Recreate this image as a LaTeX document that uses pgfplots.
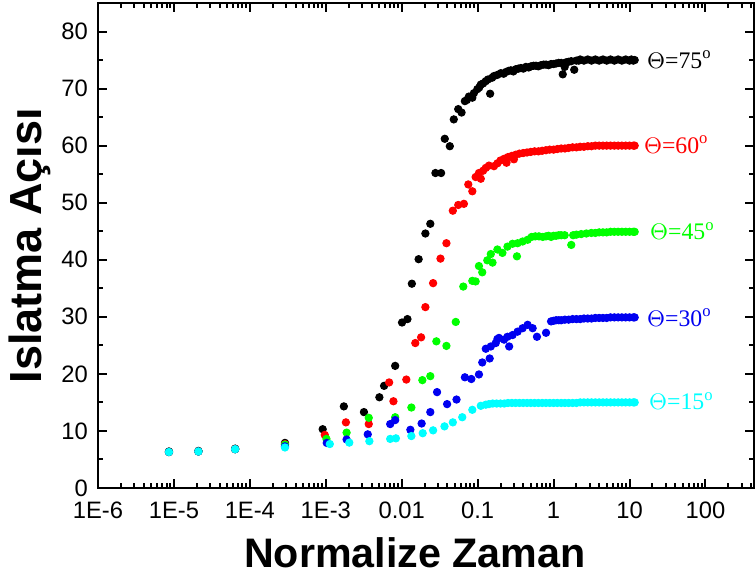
\documentclass[border=0pt]{standalone}
\usepackage{fontspec}
\setmainfont{Liberation Sans}
\newfontfamily\tnr{Liberation Serif}
\usepackage{pgfplots}
\pgfplotsset{compat=1.18}
\definecolor{cyanpt}{RGB}{0,255,255}
\definecolor{greenpt}{RGB}{0,255,0}
\definecolor{bluept}{RGB}{0,0,240}
\definecolor{redpt}{RGB}{255,0,0}

\begin{document}
\begin{tikzpicture}
\begin{axis}[
  scale only axis,
  width=262.4pt, height=194pt,
  xmode=log,
  xmin=1e-6, xmax=436,
  ymin=0, ymax=85,
  xtick={1e-6,1e-5,1e-4,1e-3,0.01,0.1,1,10,100},
  xticklabels={1E-6,1E-5,1E-4,1E-3,0.01,0.1,1,10,100},
  minor xtick={2e-6,3e-6,4e-6,5e-6,6e-6,7e-6,8e-6,9e-6,
    2e-5,3e-5,4e-5,5e-5,6e-5,7e-5,8e-5,9e-5,
    2e-4,3e-4,4e-4,5e-4,6e-4,7e-4,8e-4,9e-4,
    2e-3,3e-3,4e-3,5e-3,6e-3,7e-3,8e-3,9e-3,
    0.02,0.03,0.04,0.05,0.06,0.07,0.08,0.09,
    0.2,0.3,0.4,0.5,0.6,0.7,0.8,0.9,
    2,3,4,5,6,7,8,9,
    20,30,40,50,60,70,80,90,
    200,300,400},
  ytick={0,10,...,80},
  minor y tick num=1,
  /pgf/number format/assume math mode=true,
  tick label style={font=\fontsize{9.5}{11}\selectfont},
  xticklabel style={yshift=-2pt},
  yticklabel style={xshift=-0.5pt},
  axis line style={line width=0.8pt},
  every tick/.style={black, line width=0.8pt},
  major tick length=3.6pt,
  minor tick length=2pt,
  xlabel={Normalize Zaman},
  ylabel={Islatma Açısı},
  label style={font=\fontsize{16.5}{18}\selectfont\bfseries},
  xlabel style={at={(axis description cs:0.483,-0.134)}, anchor=center},
  ylabel style={at={(axis description cs:-0.104,0.5)}, anchor=center,
    font=\fontsize{18}{20}\selectfont\bfseries},
  every axis plot/.append style={only marks, mark=*, mark size=1.45pt},
]
% Theta = 75
\addplot[black, mark options={fill=black}] coordinates {
  (8.6e-6,6.4) (2.1e-5,6.5) (6.4e-5,6.9) (2.9e-4,7.9) (9.1e-4,10.3)
  (1.73e-3,14.3) (3.18e-3,13.3) (5.08e-3,15.9) (5.86e-3,17.9) (8.2e-3,21.4)
  (1.01e-2,29.0) (1.19e-2,29.6) (1.36e-2,35.8) (1.67e-2,40.1) (2.05e-2,44.6)
  (2.38e-2,46.3) (2.78e-2,55.2) (3.30e-2,55.2) (3.69e-2,61.2) (4.30e-2,59.9)
  (4.85e-2,64.6) (5.55e-2,66.4) (6.14e-2,65.8) (6.79e-2,67.8) (7.2e-2,68.0)
  (7.67e-2,68.6) (8.51e-2,68.4) (8.93e-2,69.2) (9.91e-2,69.9) (0.105,70.2)
  (0.110,70.7) (0.118,70.9) (0.128,71.3) (0.137,71.6) (0.146,69.1)
  (0.155,71.9) (0.164,72.2) (0.182,72.4) (0.202,72.7) (0.22,72.6)
  (0.235,72.9) (0.255,73.1) (0.274,73.2) (0.295,73.0) (0.319,73.4)
  (0.345,73.5) (0.371,73.6) (0.40,73.5) (0.432,73.8) (0.47,73.7)
  (0.504,73.9) (0.545,74.0) (0.586,74.0) (0.63,73.9) (0.683,74.1)
  (0.74,74.2) (0.796,74.2) (0.86,74.1) (0.927,74.3) (1.0,74.3)
  (1.08,74.4) (1.17,74.5) (1.26,74.5) (1.32,72.5) (1.4,73.8)
  (1.46,74.6) (1.58,74.7) (1.71,74.8) (1.87,73.3) (1.99,74.9)
  (2.15,74.9) (2.24,75.1) (2.51,74.9) (2.82,75.1) (3.16,74.9)
  (3.55,75.1) (3.98,74.9) (4.47,75.1) (5.01,74.9) (5.62,75.1)
  (6.31,74.9) (7.08,75.1) (7.94,74.9) (8.91,75.1) (10,74.9)
  (10.6,75.1) (11.2,74.9) (11.7,75.0)
};
% Theta = 60
\addplot[redpt, mark options={fill=redpt}] coordinates {
  (8.6e-6,6.3) (2.1e-5,6.4) (6.4e-5,6.8) (2.9e-4,7.7) (9.7e-4,9.3)
  (1.84e-3,11.5) (3.68e-3,11.2) (6.83e-3,18.5) (7.78e-3,15.2) (1.15e-2,19.0)
  (1.51e-2,25.4) (1.80e-2,26.4) (2.05e-2,31.7) (2.59e-2,35.9) (3.24e-2,40.2)
  (3.88e-2,42.9) (4.71e-2,48.6) (5.55e-2,49.6) (6.59e-2,49.8) (7.53e-2,53.2)
  (8.51e-2,52.0) (9.41e-2,54.5) (0.104,55.2) (0.110,54.2) (0.118,55.6)
  (0.128,56.1) (0.141,56.5) (0.164,56.4) (0.182,56.9) (0.2,57.4)
  (0.224,57.7) (0.24,57.0) (0.251,58.0) (0.282,58.2) (0.30,57.6)
  (0.316,58.4) (0.355,58.6) (0.398,58.7) (0.447,58.8) (0.501,58.9)
  (0.562,59.0) (0.631,59.0) (0.708,59.1) (0.794,59.2) (0.891,59.3)
  (1.0,59.3) (1.12,59.4) (1.26,59.5) (1.41,59.5) (1.58,59.6)
  (1.78,59.7) (2.0,59.7) (2.24,59.8) (2.51,59.8) (2.82,59.9)
  (3.16,59.9) (3.55,60) (3.98,60) (4.47,60) (5.01,60) (5.62,60)
  (6.31,60) (7.08,60) (7.94,60) (8.91,60) (10,60) (11.2,60) (11.7,60)
};
% Theta = 45
\addplot[greenpt, mark options={fill=greenpt}] coordinates {
  (8.6e-6,6.3) (2.1e-5,6.4) (6.4e-5,6.8) (2.9e-4,7.6) (1.02e-3,8.6)
  (1.88e-3,9.7) (3.68e-3,12.3) (8.2e-3,12.4) (1.34e-2,14.1) (1.87e-2,18.9)
  (2.38e-2,19.6) (2.86e-2,25.7) (3.88e-2,24.9) (5.15e-2,29.1) (6.47e-2,35.3)
  (8.51e-2,36.3) (9.41e-2,36.2) (0.104,38.9) (0.115,37.8) (0.134,39.9)
  (0.149,41.0) (0.157,39.5) (0.182,41.8) (0.212,41.2) (0.247,42.3)
  (0.288,42.8) (0.329,40.6) (0.336,42.9) (0.391,43.2) (0.455,43.5)
  (0.514,44.0) (0.575,44.1) (0.642,44.1) (0.72,44.0) (0.796,44.1)
  (0.86,44.2) (0.927,44.0) (1.0,44.2) (1.08,44.2) (1.17,44.3)
  (1.26,44.3) (1.4,44.3) (1.71,42.6) (1.81,44.3) (2.0,44.4)
  (2.31,44.5) (2.7,44.6) (3.14,44.7) (3.55,44.7) (3.98,44.8)
  (4.47,44.8) (5.01,44.8) (5.62,44.9) (6.31,44.9) (7.08,44.9)
  (7.94,44.9) (8.91,44.9) (10,44.9) (11.2,44.9) (11.7,44.9)
};
% Theta = 30
\addplot[bluept, mark options={fill=bluept}] coordinates {
  (8.6e-6,6.3) (2.1e-5,6.4) (6.4e-5,6.8) (2.9e-4,7.3) (1.03e-3,7.9)
  (1.88e-3,8.5) (3.57e-3,9.4) (7.05e-3,11.2) (8.2e-3,11.9) (1.30e-2,10.2)
  (1.83e-2,11.3) (2.38e-2,13.3) (2.92e-2,16.8) (3.96e-2,14.7) (5.27e-2,15.5)
  (6.79e-2,19.4) (8.26e-2,19.1) (0.104,19.9) (0.115,22.0) (0.128,24.4)
  (0.144,22.7) (0.149,24.8) (0.173,25.4) (0.182,26.1) (0.191,26.3)
  (0.223,26.0) (0.247,26.5) (0.260,24.8) (0.288,26.8) (0.336,27.4)
  (0.391,28.0) (0.455,28.6) (0.530,28.0) (0.604,26.5) (0.796,27.2)
  (0.927,29.2) (1.0,29.3) (1.08,29.4) (1.17,29.4) (1.26,29.4)
  (1.41,29.5) (1.58,29.5) (1.78,29.6) (2.0,29.6) (2.24,29.6)
  (2.51,29.7) (2.82,29.7) (3.16,29.7) (3.55,29.8) (3.98,29.8)
  (4.47,29.8) (5.01,29.8) (5.62,29.9) (6.31,29.9) (7.08,29.9)
  (7.94,29.9) (8.91,29.9) (10,29.9) (11.2,29.9) (11.7,29.9)
};
% Theta = 15
\addplot[cyanpt, mark options={fill=cyanpt}] coordinates {
  (8.6e-6,6.3) (2.1e-5,6.4) (6.4e-5,6.8) (2.9e-4,7.1) (1.13e-3,7.7)
  (2.04e-3,7.95) (3.75e-3,8.2) (7.05e-3,8.6) (8.38e-3,8.7) (1.34e-2,9.1)
  (1.89e-2,9.6) (2.59e-2,10.1) (3.66e-2,10.8) (4.71e-2,11.5) (6.27e-2,12.4)
  (8.51e-2,13.7) (0.110,14.4) (0.128,14.6) (0.141,14.7) (0.158,14.8)
  (0.178,14.8) (0.2,14.8) (0.224,14.8) (0.251,14.9) (0.282,14.9)
  (0.316,14.9) (0.355,14.9) (0.398,14.9) (0.447,14.9) (0.501,14.9)
  (0.562,14.9) (0.631,14.9) (0.708,14.9) (0.794,14.9) (0.891,14.9)
  (1.0,14.9) (1.12,14.9) (1.26,14.9) (1.41,14.9) (1.58,14.9)
  (1.78,14.9) (2.0,14.9) (2.24,15.0) (2.51,15.0) (2.82,15.0)
  (3.16,15.0) (3.55,15.0) (3.98,15.0) (4.47,15.0) (5.01,15.0)
  (5.62,15.0) (6.31,15.0) (7.08,15.0) (7.94,15.0) (8.91,15.0)
  (10,15.0) (11.2,15.0) (11.7,15.0)
};
\node[anchor=base west, inner sep=0, black] at (axis cs:16.8,73.6) {\tnr\fontsize{9.5}{11}\selectfont $\Theta$=75\textsuperscript{o}};
\node[anchor=base west, inner sep=0, redpt] at (axis cs:15.3,58.7) {\tnr\fontsize{9.5}{11}\selectfont $\Theta$=60\textsuperscript{o}};
\node[anchor=base west, inner sep=0, greenpt] at (axis cs:18.4,43.5) {\tnr\fontsize{9.5}{11}\selectfont $\Theta$=45\textsuperscript{o}};
\node[anchor=base west, inner sep=0, bluept] at (axis cs:16.8,28.3) {\tnr\fontsize{9.5}{11}\selectfont $\Theta$=30\textsuperscript{o}};
\node[anchor=base west, inner sep=0, cyanpt] at (axis cs:17.9,13.7) {\tnr\fontsize{9.5}{11}\selectfont $\Theta$=15\textsuperscript{o}};
\end{axis}
\pgfresetboundingbox
\path[use as bounding box] ([xshift=-39.2pt,yshift=-38pt]current axis.south west) rectangle ([xshift=0.4pt,yshift=1.2pt]current axis.north east);
\end{tikzpicture}
\end{document}
